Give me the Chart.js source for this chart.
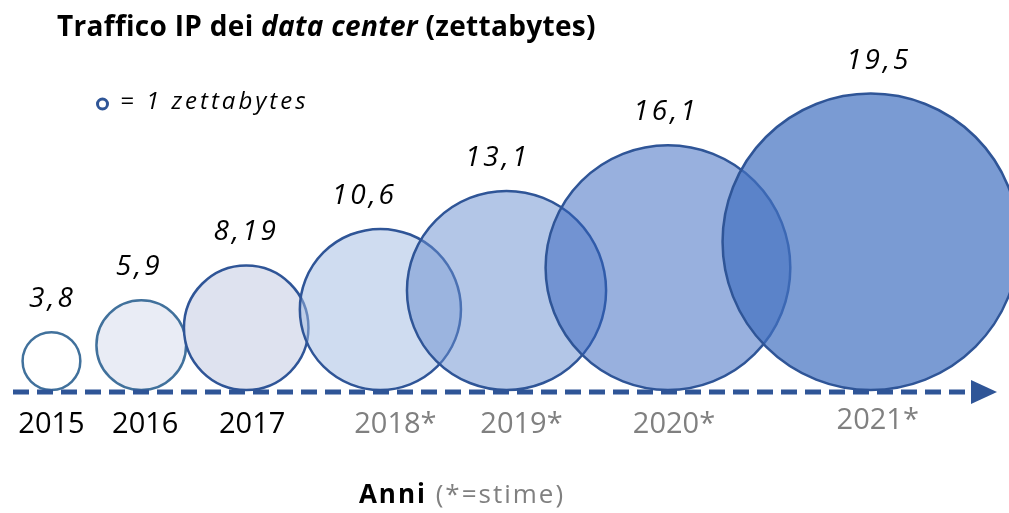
<!DOCTYPE html>
<html>
<head>
<meta charset="utf-8">
<script src="https://cdn.jsdelivr.net/npm/chart.js@4"></script>
<style>
  body { margin: 0; background: #fff; }
  canvas { display: block; }
</style>
</head>
<body>
<canvas id="bubbles" width="1009" height="513"></canvas>
<script>
// data
const years = ['2015', '2016', '2017', '2018*', '2019*', '2020*', '2021*'];
const traffic = [3.8, 5.9, 8.19, 10.6, 13.1, 16.1, 19.5];   // zettabytes
const xPos = [5.1, 14.0, 24.4, 37.7, 50.2, 66.2, 86.3];     // place along the time arrow (0-100)
const valueText = ['3,8', '5,9', '8,19', '10,6', '13,1', '16,1', '19,5'];

const fills = ['#FFFFFF', '#E9ECF5', '#DEE2EF', 'rgba(159,185,225,0.5)',
               'rgba(103,141,207,0.5)', 'rgba(49,97,189,0.5)', 'rgba(65,112,192,0.7)'];
const strokes = ['#41719C', '#41719C', '#2F5597', '#2F5597', '#2F5597', '#2F5597', '#2F5597'];
const DARK = '#2F5597';
const FONT = '"Open Sans", "Noto Sans", sans-serif';

// small nudges for the text under / over the bubbles (px)
const yearDx = [0, 4, 6, 15, 15, 6, 7];
const valueDx = [1, -2, 0, -16, -9, -2, 8];

// bubble points; radius (px) = height of the value on the y scale,
// so every bubble rests on y = 0
function bubblePoints(chart) {
    const y = chart ? chart.scales.y : null;
    return traffic.map((v, i) => ({
        x: xPos[i],
        y: v,
        r: y ? y.getPixelForValue(0) - y.getPixelForValue(v) : 0
    }));
}

const decorations = {
    id: 'decorations',
    afterDatasetsDraw(chart) {
        const c = chart.ctx;
        const base = chart.scales.y.getPixelForValue(0);
        // dashed time arrow
        c.save();
        c.strokeStyle = DARK;
        c.lineWidth = 5;
        c.setLineDash([16, 8]);
        c.beginPath();
        c.moveTo(13, base + 2);
        c.lineTo(968, base + 2);
        c.stroke();
        c.setLineDash([]);
        c.fillStyle = DARK;
        c.beginPath();
        c.moveTo(971, base - 10);
        c.lineTo(997, base + 2);
        c.lineTo(971, base + 14);
        c.closePath();
        c.fill();
        c.restore();
    },
    afterDraw(chart) {
        const c = chart.ctx;
        const y = chart.scales.y;
        const x = chart.scales.x;
        c.save();
        c.textBaseline = 'middle';
        c.textAlign = 'center';

        // values over the bubbles
        c.fillStyle = '#000';
        c.font = 'italic 28px ' + FONT;
        c.letterSpacing = '3px';
        traffic.forEach((v, i) => {
            const top = y.getPixelForValue(2 * v);
            c.fillText(valueText[i], x.getPixelForValue(xPos[i]) + valueDx[i], top - 33);
        });

        // years
        c.letterSpacing = '0px';
        c.font = '29px ' + FONT;
        years.forEach((yr, i) => {
            c.fillStyle = yr.indexOf('*') >= 0 ? '#808080' : '#000';
            const yy = i === years.length - 1 ? 421 : 425;
            c.fillText(yr, x.getPixelForValue(xPos[i]) + yearDx[i], yy);
        });

        // title
        c.textAlign = 'left';
        c.fillStyle = '#000';
        c.letterSpacing = '0.3px';
        let tx = 57;
        const parts = [['bold 28px ', 'Traffico IP dei '], ['italic bold 28px ', 'data center'], ['bold 28px ', ' (zettabytes)']];
        parts.forEach(p => {
            c.font = p[0] + FONT;
            c.fillText(p[1], tx, 28);
            tx += c.measureText(p[1]).width;
        });

        // legend key
        c.letterSpacing = '0px';
        c.strokeStyle = DARK;
        c.lineWidth = 3;
        c.beginPath();
        c.arc(102.5, 104, 5, 0, Math.PI * 2);
        c.stroke();
        c.font = 'italic 24px ' + FONT;
        c.letterSpacing = '3px';
        c.fillText('= 1 zettabytes', 120, 102);

        // axis title
        c.letterSpacing = '2px';
        c.font = 'bold 26px ' + FONT;
        const w1 = c.measureText('Anni ').width;
        c.font = '26px ' + FONT;
        const w2 = c.measureText('(*=stime)').width;
        const ax = 462 - (w1 + w2) / 2;
        c.font = 'bold 26px ' + FONT;
        c.fillText('Anni ', ax, 496);
        c.font = '26px ' + FONT;
        c.fillStyle = '#808080';
        c.fillText('(*=stime)', ax + w1, 496);
        c.restore();
    }
};

const chart = new Chart(document.getElementById('bubbles'), {
    type: 'bubble',
    data: {
        datasets: [{
            data: bubblePoints(null),
            backgroundColor: fills,
            borderColor: strokes,
            borderWidth: 2.5,
            hoverBorderWidth: 2.5,
            clip: false
        }]
    },
    options: {
        responsive: false,
        animation: false,
        events: [],
        layout: { padding: { left: 0, right: 0, top: 10, bottom: 123 } },
        scales: {
            x: { type: 'linear', min: 0, max: 100, display: false },
            y: { type: 'linear', min: 0, max: 50, display: false }
        },
        plugins: {
            legend: { display: false },
            tooltip: { enabled: false }
        }
    },
    plugins: [decorations]
});

// bubbles may spill over the plot edges, don't let them shrink the plot
chart.getDatasetMeta(0).controller.getMaxOverflow = () => false;
// scales are laid out now: size the bubbles from them
chart.data.datasets[0].data = bubblePoints(chart);
chart.update();
</script>
</body>
</html>
